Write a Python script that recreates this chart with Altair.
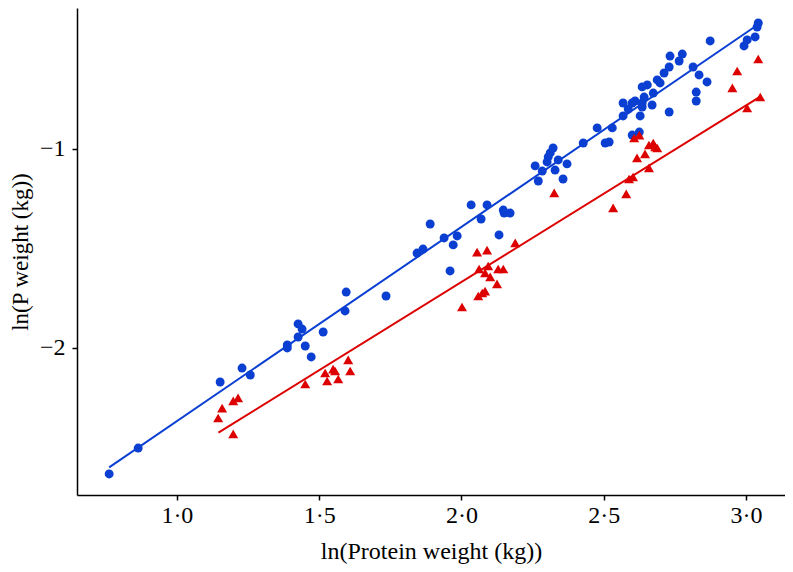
import altair as alt
import pandas as pd

# Blue circles: ln(Protein weight), ln(P weight)
blue_x = [0.762, 0.864, 1.152, 1.229, 1.258, 1.388, 1.388, 1.451, 1.472, 1.426, 1.440, 1.426,
          1.514, 1.595, 1.591, 1.735, 1.890, 1.844, 1.865, 1.939, 1.985, 1.971, 1.960, 2.034,
          2.090, 2.069, 2.147, 2.150, 2.171, 2.132, 2.270, 2.259, 2.284, 2.301, 2.305, 2.312,
          2.322, 2.329, 2.340, 2.357, 2.371, 2.428, 2.477, 2.505, 2.519, 2.530, 2.568, 2.586,
          2.568, 2.600, 2.610, 2.628, 2.600, 2.625, 2.635, 2.642, 2.653, 2.635, 2.635, 2.670,
          2.674, 2.688, 2.698, 2.712, 2.730, 2.733, 2.765, 2.776, 2.730, 2.814, 2.835, 2.863,
          2.825, 2.825, 2.874, 2.993, 3.004, 3.032, 3.039, 3.043]
blue_y = [-2.633, -2.503, -2.171, -2.101, -2.136, -1.985, -2.000, -1.990, -2.045, -1.879, -1.905, -1.945,
          -1.920, -1.719, -1.814, -1.739, -1.377, -1.523, -1.503, -1.447, -1.437, -1.482, -1.613, -1.281,
          -1.281, -1.352, -1.307, -1.322, -1.322, -1.432, -1.161, -1.085, -1.111, -1.065, -1.040, -1.020,
          -0.995, -1.106, -1.055, -1.151, -1.075, -0.970, -0.894, -0.970, -0.965, -0.894, -0.834, -0.799,
          -0.769, -0.769, -0.759, -0.834, -0.930, -0.915, -0.769, -0.739, -0.678, -0.688, -0.789, -0.779,
          -0.719, -0.653, -0.668, -0.618, -0.588, -0.533, -0.558, -0.523, -0.814, -0.588, -0.628, -0.663,
          -0.714, -0.759, -0.457, -0.482, -0.452, -0.437, -0.387, -0.367]

# Red triangles
red_x = [1.145, 1.159, 1.198, 1.215, 1.198, 1.451, 1.521, 1.528, 1.549, 1.556, 1.567, 1.602,
         1.609, 2.002, 2.055, 2.090, 2.062, 2.094, 2.083, 2.101, 2.129, 2.147, 2.125, 2.059,
         2.073, 2.083, 2.189, 2.326, 2.533, 2.579, 2.589, 2.603, 2.617, 2.645, 2.659, 2.659,
         2.674, 2.681, 2.688, 2.607, 2.625, 2.952, 2.969, 3.043, 3.004, 3.050]
red_y = [-2.352, -2.302, -2.266, -2.251, -2.432, -2.181, -2.126, -2.166, -2.106, -2.116, -2.156, -2.060,
         -2.116, -1.794, -1.518, -1.508, -1.603, -1.588, -1.623, -1.643, -1.603, -1.603, -1.678, -1.739,
         -1.724, -1.714, -1.472, -1.221, -1.296, -1.226, -1.151, -1.141, -1.045, -1.025, -1.095, -0.980,
         -0.970, -0.990, -0.995, -0.945, -0.930, -0.693, -0.608, -0.548, -0.794, -0.739]

# Fitted lines (end points)
blue_line_x = [0.762, 3.040]
blue_line_y = [-2.600, -0.377]
red_line_x = [1.146, 3.050]
red_line_y = [-2.426, -0.737]

x_ticks = [1.0, 1.5, 2.0, 2.5, 3.0]
y_ticks = [-2, -1]

df = pd.DataFrame({
    "x": blue_x + red_x,
    "y": blue_y + red_y,
    "group": ["A"] * len(blue_x) + ["B"] * len(red_x),
})
lines_df = pd.DataFrame({
    "x": blue_line_x + red_line_x,
    "y": blue_line_y + red_line_y,
    "group": ["A"] * len(blue_line_x) + ["B"] * len(red_line_x),
})

FONT = "Liberation Serif"
color_scale = alt.Scale(domain=["A", "B"], range=["#0a3fd2", "#dd0000"])

xenc = alt.X("x:Q", scale=alt.Scale(domain=[0.649, 3.137], nice=False, zero=False),
             axis=alt.Axis(title="ln(Protein weight (kg))", values=x_ticks,
                           labelExpr="replace(format(datum.value, '.1f'), '.', '·')",
                           labelPadding=3, titlePadding=12))
yenc = alt.Y("y:Q", scale=alt.Scale(domain=[-2.739, -0.2915], nice=False, zero=False),
             axis=alt.Axis(title="ln(P weight (kg))", values=y_ticks, format=".0f",
                           labelPadding=7, titlePadding=7, titleFontSize=23))

points = alt.Chart(df).mark_point(filled=True, opacity=1).encode(
    x=xenc, y=yenc,
    color=alt.Color("group:N", scale=color_scale, legend=None),
    shape=alt.Shape("group:N", scale=alt.Scale(domain=["A", "B"], range=["circle", "triangle-up"]), legend=None),
    size=alt.Size("group:N", scale=alt.Scale(domain=["A", "B"], range=[80, 100]), legend=None),
)

lines = alt.Chart(lines_df).mark_line(strokeWidth=2).encode(
    x="x:Q", y="y:Q",
    color=alt.Color("group:N", scale=color_scale, legend=None),
    detail="group:N",
)

chart = alt.layer(lines, points).properties(
    width=708, height=487,
    autosize=alt.AutoSizeParams(type="none"),
    padding={"left": 69, "top": 0, "right": 0, "bottom": 69},
).configure_view(stroke=None).configure_axis(
    grid=False,
    domainColor="black", domainWidth=1.5,
    tickColor="black", tickWidth=1.5, tickSize=5,
    labelFont=FONT, labelFontSize=24, labelColor="black",
    titleFont=FONT, titleFontSize=24, titleFontWeight="normal", titleColor="black",
)

chart.save("out.html", embed_options={"renderer": "svg", "actions": False})
